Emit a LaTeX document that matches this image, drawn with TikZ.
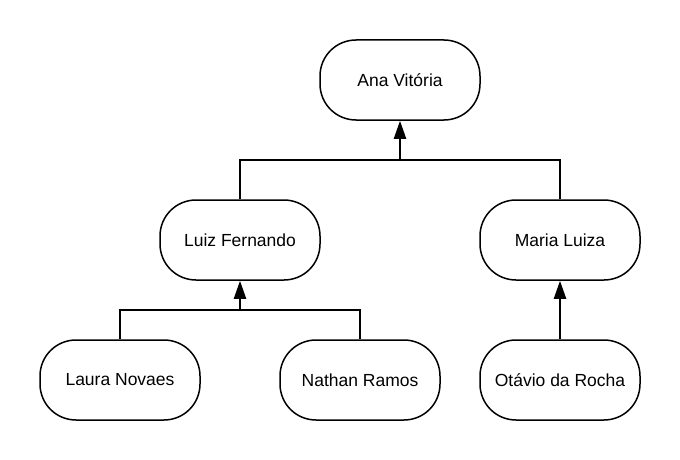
\documentclass[tikz,border=0pt]{standalone}
\usepackage{fontspec}
\setmainfont{Liberation Sans}
\usetikzlibrary{arrows.meta}
\begin{document}
\begin{tikzpicture}[x=1pt,y=-1pt,
  person/.style={draw, line width=1.5pt, rounded corners=36pt, minimum width=160pt, minimum height=80pt, font=\fontsize{17.5}{21}\selectfont, inner sep=0pt},
  link/.style={line width=2pt, -{Triangle[length=18pt,width=12pt]}}]
\useasboundingbox (0,0) rectangle (680,460);
\node[person] (ana) at (400,80) {Ana Vitória};
\node[person] (luiz) at (240,240) {Luiz Fernando};
\node[person] (maria) at (560,240) {Maria Luiza};
\node[person] (laura) at (120,380) {Laura Novaes};
\node[person] (nathan) at (360,380) {Nathan Ramos};
\node[person] (otavio) at (560,380) {Otávio da Rocha};
\draw[link] (luiz.north) |- (400,160) -- (ana.south);
\draw[line width=2pt] (maria.north) |- (400,160);
\draw[link] (laura.north) |- (240,310) -- (luiz.south);
\draw[line width=2pt] (nathan.north) |- (240,310);
\draw[link] (otavio.north) -- (maria.south);
\end{tikzpicture}
\end{document}
